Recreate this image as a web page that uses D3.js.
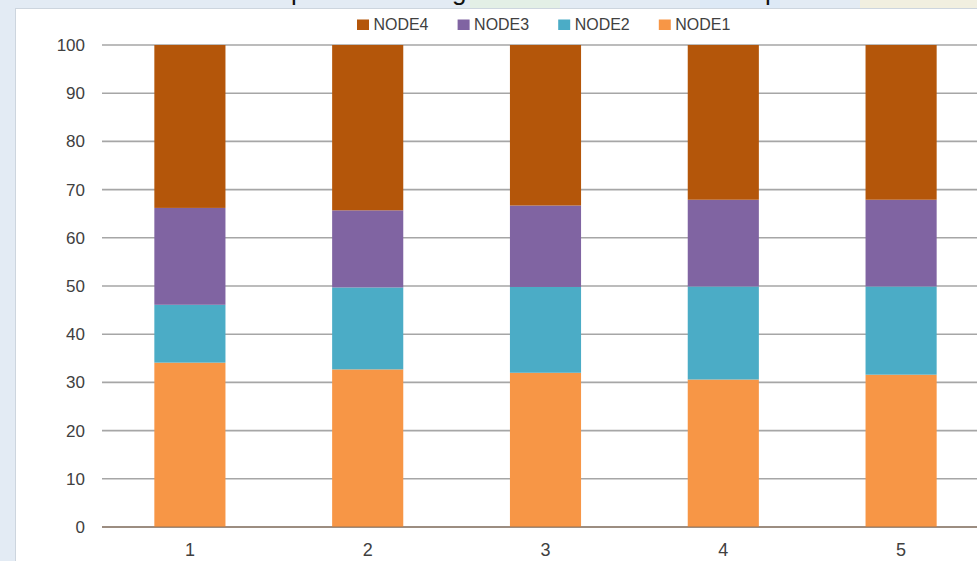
<!DOCTYPE html>
<meta charset="utf-8">
<script src="https://d3js.org/d3.v7.min.js"></script>
<style>
  body { margin: 0; background: #fff; }
</style>
<div id="my_dataviz"></div>
<script>

// data (percent of each node per group)
var groups = ["1", "2", "3", "4", "5"];
var node1 = [34.1, 32.7, 32.0, 30.6, 31.6];
var node2 = [12.0, 17.0, 17.8, 19.3, 18.3];
var node3 = [20.1, 16.0, 16.9, 18.0, 18.0];
var node4 = [33.8, 34.3, 33.3, 32.1, 32.1];
var subgroups = ["NODE1", "NODE2", "NODE3", "NODE4"];
var legendOrder = ["NODE4", "NODE3", "NODE2", "NODE1"];
var yTicks = [0, 10, 20, 30, 40, 50, 60, 70, 80, 90, 100];

var W = 977, H = 561;

var svg = d3.select("#my_dataviz")
  .append("svg")
    .attr("width", W)
    .attr("height", H);

// window background pieces around the chart (the screenshot is cropped)
svg.append("rect").attr("x", 0).attr("y", 0).attr("width", W).attr("height", H).attr("fill", "#e3ebf4");
svg.append("rect").attr("x", 470).attr("y", 0).attr("width", 90).attr("height", 8).attr("fill", "#e3efe6");
svg.append("rect").attr("x", 700).attr("y", 0).attr("width", 80).attr("height", 8).attr("fill", "#dde9f6");
svg.append("rect").attr("x", 860).attr("y", 0).attr("width", 117).attr("height", 8).attr("fill", "#f1efe0");
svg.append("rect").attr("x", 15.5).attr("y", 8.5).attr("width", W).attr("height", H)
  .attr("fill", "#fff").attr("stroke", "#cdd5de");

// bits of the cut-off title
var titleBits = [["p", 291], ["g", 452], ["p", 765]];
svg.selectAll(".tbit").data(titleBits).enter().append("text")
  .attr("x", function(d) { return d[1]; })
  .attr("y", 0)
  .style("font", "26px 'Liberation Sans', Arial, sans-serif")
  .attr("fill", "#111")
  .text(function(d) { return d[0]; });

// table built from the arrays
var data = groups.map(function(g, i) {
  return {group: g, NODE1: node1[i], NODE2: node2[i], NODE3: node3[i], NODE4: node4[i]};
});
var stacked = d3.stack().keys(subgroups)(data);

var x = d3.scaleBand()
  .domain(groups)
  .range([101, 101 + 177.8 * 5])
  .paddingInner(0.6)
  .paddingOuter(0.3);

var y = d3.scaleLinear()
  .domain([0, 100])
  .range([527, 45]);

var color = d3.scaleOrdinal()
  .domain(subgroups)
  .range(["#f79646", "#4bacc6", "#8064a2", "#b4560a"]);

// gridlines
svg.append("g")
  .selectAll("line")
  .data(yTicks)
  .enter()
  .append("line")
    .attr("x1", 102)
    .attr("x2", W)
    .attr("y1", function(d) { return y(d); })
    .attr("y2", function(d) { return y(d); })
    .attr("stroke", function(d) { return d === 0 ? "#8c8c8c" : "#a6a6a6"; })
    .attr("stroke-width", 1.6);

// y axis labels
var yAxis = svg.append("g")
  .attr("transform", "translate(102,0)")
  .call(d3.axisLeft(y).tickValues(yTicks).tickSize(0).tickPadding(17));
yAxis.select(".domain").remove();
yAxis.selectAll("text")
  .style("font", "17px 'Liberation Sans', Arial, sans-serif")
  .attr("fill", "#404040");

// x axis labels
var xAxis = svg.append("g")
  .attr("transform", "translate(0," + y(0) + ")")
  .call(d3.axisBottom(x).tickSize(0).tickPadding(16));
xAxis.select(".domain").remove();
xAxis.selectAll("text")
  .style("font", "18px 'Liberation Sans', Arial, sans-serif")
  .attr("fill", "#404040");

// stacked bars
svg.append("g")
  .selectAll("g")
  .data(stacked)
  .enter()
  .append("g")
    .attr("fill", function(d) { return color(d.key); })
  .selectAll("rect")
  .data(function(d) { return d; })
  .enter()
  .append("rect")
    .attr("x", function(d) { return x(d.data.group); })
    .attr("y", function(d) { return y(d[1]); })
    .attr("height", function(d) { return y(d[0]) - y(d[1]); })
    .attr("width", x.bandwidth());

// redraw the zero line over the bars
svg.append("line")
  .attr("x1", 102).attr("x2", W)
  .attr("y1", y(0)).attr("y2", y(0))
  .attr("stroke", "#8c6a50").attr("stroke-opacity", 0.6).attr("stroke-width", 1.6);

// legend
var legend = svg.append("g")
  .selectAll("g")
  .data(legendOrder)
  .enter()
  .append("g")
    .attr("transform", function(d, i) { return "translate(" + (357 + i * 100.6) + ",0)"; });
legend.append("rect")
  .attr("x", 0).attr("y", 19.5)
  .attr("width", 12).attr("height", 10.5)
  .attr("fill", function(d) { return color(d); });
legend.append("text")
  .attr("x", 16.5).attr("y", 30)
  .attr("textLength", 55)
  .attr("lengthAdjust", "spacingAndGlyphs")
  .style("font", "17px 'Liberation Sans', Arial, sans-serif")
  .attr("fill", "#404040")
  .text(function(d) { return d; });

</script>
